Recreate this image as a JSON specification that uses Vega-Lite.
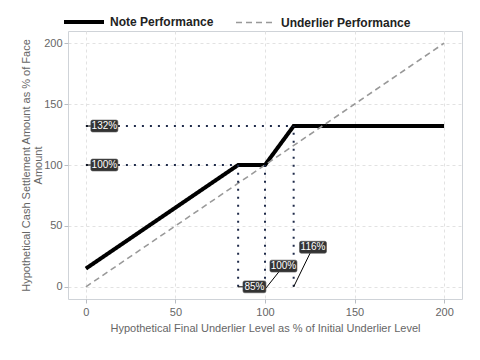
{
  "$schema": "https://vega.github.io/schema/vega-lite/v6.json",
  "autosize": {"type": "none"},
  "width": 394,
  "height": 268,
  "padding": {"left": 68, "top": 31, "right": 18, "bottom": 61},
  "background": "white",
  "config": {
    "font": "Liberation Sans",
    "view": {"stroke": "#cfd3d8", "strokeWidth": 1},
    "axis": {
      "grid": true,
      "gridColor": "#e2e2e2",
      "gridDash": [3, 3],
      "gridWidth": 1,
      "domain": false,
      "tickColor": "#b8bcc2",
      "tickSize": 4,
      "labelColor": "#666666",
      "labelFontSize": 11,
      "titleColor": "#666666",
      "titleFontSize": 11,
      "titleFontWeight": "normal",
      "labelFont": "Liberation Sans",
      "titleFont": "Liberation Sans"
    }
  },
  "datasets": {
    "lines": [
      {"series": "Note Performance", "level": 0, "value": 15},
      {"series": "Note Performance", "level": 85, "value": 100},
      {"series": "Note Performance", "level": 100, "value": 100},
      {"series": "Note Performance", "level": 116, "value": 132},
      {"series": "Note Performance", "level": 200, "value": 132},
      {"series": "Underlier Performance", "level": 0, "value": 0},
      {"series": "Underlier Performance", "level": 200, "value": 200}
    ],
    "segs": [
      {"x": 0, "y": 132, "x2": 116, "y2": 132},
      {"x": 0, "y": 100, "x2": 85, "y2": 100},
      {"x": 85, "y": 0, "x2": 85, "y2": 100},
      {"x": 100, "y": 0, "x2": 100, "y2": 100},
      {"x": 116, "y": 0, "x2": 116, "y2": 132}
    ],
    "labels": [
      {"lab": "132%", "px": 0, "py": 132, "lx": 10.3, "ly": 132},
      {"lab": "100%", "px": 0, "py": 100, "lx": 10.3, "ly": 100},
      {"lab": "85%", "px": 85, "py": 0, "lx": 94.1, "ly": 0},
      {"lab": "100%", "px": 100, "py": -2, "lx": 110.3, "ly": 17},
      {"lab": "116%", "px": 116, "py": 0, "lx": 126.8, "ly": 32.5}
    ]
  },
  "layer": [
    {
      "data": {"name": "lines"},
      "mark": {"type": "line", "strokeCap": "butt"},
      "encoding": {
        "x": {
          "field": "level", "type": "quantitative",
          "scale": {"domain": [-10, 210], "nice": false, "zero": false},
          "axis": {"values": [0, 50, 100, 150, 200], "title": "Hypothetical Final Underlier Level as % of Initial Underlier Level", "labelPadding": 3, "titlePadding": 5}
        },
        "y": {
          "field": "value", "type": "quantitative",
          "scale": {"domain": [-10, 210], "nice": false, "zero": false},
          "axis": {"values": [0, 50, 100, 150, 200], "title": ["Hypothetical Cash Settlement Amount as % of Face", "Amount"], "labelPadding": 2, "titlePadding": 0, "titleLineHeight": 12}
        },
        "color": {
          "field": "series", "type": "nominal",
          "scale": {"domain": ["Note Performance", "Underlier Performance"], "range": ["#000000", "#999999"]},
          "legend": {
            "title": null,
            "orient": "none",
            "legendX": -6,
            "legendY": -31,
            "direction": "horizontal",
            "symbolType": "stroke",
            "symbolSize": 1600,
            "labelFontSize": 12,
            "labelFontWeight": "bold",
            "labelColor": "#222222",
            "labelFont": "Liberation Sans",
            "labelOffset": 4,
            "columnPadding": 18
          }
        },
        "strokeDash": {
          "field": "series", "type": "nominal",
          "scale": {"domain": ["Note Performance", "Underlier Performance"], "range": [[1, 0], [6, 4]]},
          "legend": null
        },
        "strokeWidth": {
          "field": "series", "type": "nominal",
          "scale": {"type": "ordinal", "domain": ["Note Performance", "Underlier Performance"], "range": [4, 1.6]},
          "legend": null
        }
      }
    },
    {
      "data": {"name": "segs"},
      "mark": {"type": "rule", "color": "#1f2b4a", "strokeWidth": 2, "strokeDash": [2, 6]},
      "encoding": {
        "x": {"field": "x", "type": "quantitative"},
        "y": {"field": "y", "type": "quantitative"},
        "x2": {"field": "x2"},
        "y2": {"field": "y2"}
      }
    },
    {
      "data": {"name": "labels"},
      "mark": {"type": "rule", "color": "#000000", "strokeWidth": 1},
      "encoding": {
        "x": {"field": "px", "type": "quantitative"},
        "y": {"field": "py", "type": "quantitative"},
        "x2": {"field": "lx"},
        "y2": {"field": "ly"}
      }
    },
    {
      "data": {"name": "labels"},
      "mark": {"type": "point", "filled": true, "opacity": 1, "fill": "#333333", "stroke": "#555555", "strokeWidth": 0.6, "size": 729},
      "encoding": {
        "x": {"field": "lx", "type": "quantitative"},
        "y": {"field": "ly", "type": "quantitative"},
        "shape": {
          "condition": {"test": "length(datum.lab) < 4", "value": "M-0.72,-0.44 L0.72,-0.44 Q0.85,-0.44 0.85,-0.31 L0.85,0.31 Q0.85,0.44 0.72,0.44 L-0.72,0.44 Q-0.85,0.44 -0.85,0.31 L-0.85,-0.31 Q-0.85,-0.44 -0.72,-0.44 Z"},
          "value": "M-0.87,-0.44 L0.87,-0.44 Q1,-0.44 1,-0.31 L1,0.31 Q1,0.44 0.87,0.44 L-0.87,0.44 Q-1,0.44 -1,0.31 L-1,-0.31 Q-1,-0.44 -0.87,-0.44 Z"
        }
      }
    },
    {
      "data": {"name": "labels"},
      "mark": {"type": "text", "color": "#ffffff", "fontSize": 10, "font": "Liberation Sans", "align": "center", "baseline": "middle"},
      "encoding": {
        "x": {"field": "lx", "type": "quantitative"},
        "y": {"field": "ly", "type": "quantitative"},
        "text": {"field": "lab", "type": "nominal"}
      }
    }
  ]
}
